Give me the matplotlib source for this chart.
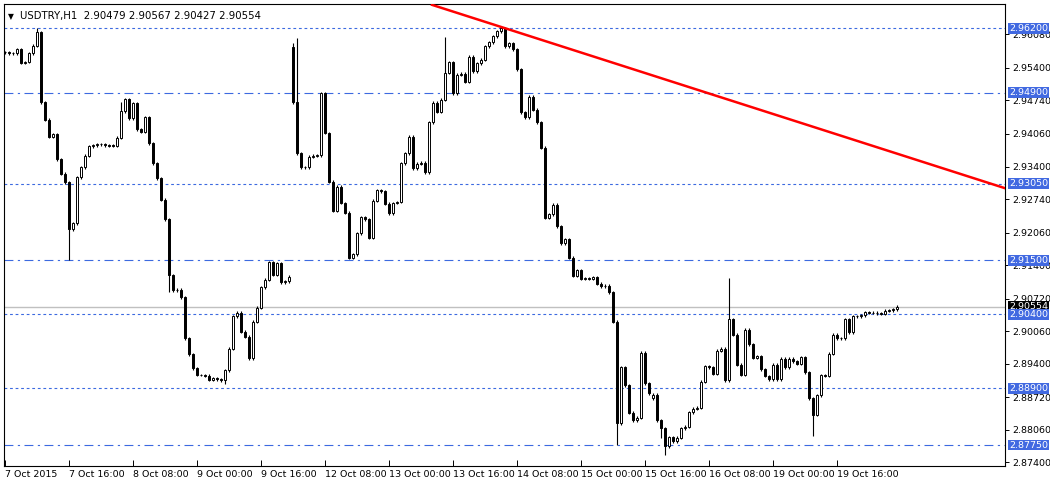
import matplotlib
matplotlib.use("Agg")
import matplotlib.pyplot as plt
import numpy as np

closes = [2.9572,2.9570,2.9570,2.9578,2.9550,2.9552,2.9570,2.9585,2.9612,2.9470,
          2.9435,2.9400,2.9405,2.9355,2.9325,2.9308,2.9213,2.9225,2.9318,2.9338,
          2.9362,2.9381,2.9383,2.9385,2.9385,2.9383,2.9382,2.9382,2.9398,2.9452,
          2.9477,2.9438,2.9468,2.9416,2.9411,2.9440,2.9387,2.9347,2.9316,2.9273,
          2.9233,2.9119,2.9089,2.9090,2.9075,2.8992,2.8959,2.8931,2.8917,2.8917,
          2.8916,2.8907,2.8910,2.8908,2.8906,2.8927,2.8970,2.9036,2.9043,2.9005,
          2.8995,2.8951,2.9025,2.9053,2.9095,2.9110,2.9146,2.9120,2.9144,2.9105,
          2.9107,2.9116,2.9470,2.9367,2.9338,2.9338,2.9360,2.9362,2.9363,2.9489,
          2.9408,2.9309,2.9250,2.9299,2.9266,2.9246,2.9155,2.9162,2.9205,2.9237,
          2.9233,2.9195,2.9271,2.9292,2.9290,2.9264,2.9245,2.9266,2.9268,2.9347,
          2.9367,2.9400,2.9336,2.9346,2.9348,2.9328,2.9430,2.9469,2.9451,2.9475,
          2.9530,2.9552,2.9489,2.9526,2.9528,2.9512,2.9563,2.9533,2.9549,2.9557,
          2.9584,2.9592,2.9604,2.9614,2.9620,2.9584,2.9590,2.9578,2.9537,2.9450,
          2.9440,2.9482,2.9455,2.9430,2.9378,2.9236,2.9243,2.9262,2.9219,2.9184,
          2.9192,2.9155,2.9118,2.9130,2.9112,2.9113,2.9112,2.9115,2.9102,2.9097,
          2.9098,2.9085,2.9025,2.8819,2.8933,2.8896,2.8840,2.8825,2.8830,2.8962,
          2.8900,2.8880,2.8877,2.8825,2.8809,2.8772,2.8791,2.8783,2.8790,2.8809,
          2.8812,2.8841,2.8849,2.8851,2.8903,2.8935,2.8933,2.8920,2.8966,2.8970,
          2.8906,2.9030,2.8999,2.8938,2.8917,2.9009,2.8979,2.8952,2.8955,2.8929,
          2.8915,2.8908,2.8938,2.8908,2.8950,2.8933,2.8950,2.8945,2.8940,2.8953,
          2.8923,2.8870,2.8836,2.8876,2.8917,2.8915,2.8960,2.8999,2.8992,2.8992,
          2.9030,2.9004,2.9036,2.9036,2.9038,2.9044,2.9043,2.9043,2.9042,2.9041,
          2.9047,2.9048,2.9050,2.90554]
first_open = 2.9572
open_overrides = {72: 2.9583, 162: 2.8870}
high_overrides = {8: 2.9620, 72: 2.9590, 73: 2.9600, 110: 2.9603, 125: 2.9620,
                  181: 2.9113, 79: 2.9490, 29: 2.9470, 16: 2.9225, 41: 2.9130}
low_overrides = {16: 2.9150, 165: 2.8755, 153: 2.8775, 202: 2.8793, 55: 2.8898,
                 164: 2.8790, 41: 2.9085}
levels = [2.9620, 2.9490, 2.9305, 2.9150, 2.9040, 2.8890, 2.8775]
level_styles = ['dotted', 'dashdot', 'dotted', 'dashdot', 'dotted', 'dotted', 'dashdot']
bid = 2.90554
trend_pts = ([106.75, 250.0], [2.9668, 2.9296])
yticks = [2.96080, 2.95400, 2.94740, 2.94060, 2.93400, 2.92740, 2.92060,
          2.91400, 2.90720, 2.90060, 2.89400, 2.88720, 2.88060, 2.87400]
xlabels = ["7 Oct 2015", "7 Oct 16:00", "8 Oct 08:00", "9 Oct 00:00", "9 Oct 16:00",
           "12 Oct 08:00", "13 Oct 00:00", "13 Oct 16:00", "14 Oct 08:00",
           "15 Oct 00:00", "15 Oct 16:00", "16 Oct 08:00", "19 Oct 00:00", "19 Oct 16:00"]
title = "USDTRY,H1  2.90479 2.90567 2.90427 2.90554"

n = len(closes)
opens = [first_open] + closes[:-1]
for k, v in open_overrides.items():
    opens[k] = v
highs = [max(o, c) + 0.0003 for o, c in zip(opens, closes)]
lows = [min(o, c) - 0.0003 for o, c in zip(opens, closes)]
for k, v in high_overrides.items():
    highs[k] = max(v, highs[k])
for k, v in low_overrides.items():
    lows[k] = min(v, lows[k])

FS = 6.8
W, H = 1050, 486
fig = plt.figure(figsize=(W/100, H/100), dpi=100)
ax = fig.add_axes([4/W, 1-466/H, (1005-4)/W, (466-4)/H])
ax.set_xlim(-0.25, 250.0)
ax.set_ylim(2.87324, 2.96697)

for lv, st in zip(levels, level_styles):
    ls = (0, (2.5, 2.5)) if st == 'dotted' else (0, (8, 4, 2, 4))
    ax.axhline(lv, color='#3c6ae0', lw=0.8, ls=ls, zorder=1)
ax.axhline(bid, color='#c0c0c0', lw=1.0, zorder=1)

x = np.arange(n)
ax.vlines(x, lows, highs, color='black', lw=0.8, zorder=2)
bodies_b = [max(abs(c - o), 0.00008) for o, c in zip(opens, closes)]
bottoms = [min(o, c) for o, c in zip(opens, closes)]
cols = ['white' if c > o else 'black' for o, c in zip(opens, closes)]
ax.bar(x, bodies_b, bottom=bottoms, width=0.62, color=cols, edgecolor='black',
       lw=0.7, zorder=3)

ax.plot(trend_pts[0], trend_pts[1], color='#ff0000', lw=1.8, zorder=4, clip_on=True)

ax.yaxis.tick_right()
ax.set_yticks(yticks)
ax.set_yticklabels([f"{t:.5f}" for t in yticks], fontsize=FS)
ax.tick_params(axis='y', direction='out', length=3, width=0.7, pad=2)
ax.set_xticks(np.arange(len(xlabels)) * 16)
ax.set_xticklabels(xlabels, fontsize=FS, ha='left')
ax.tick_params(axis='x', direction='in', length=4, width=0.7, pad=3)
for s in ax.spines.values():
    s.set_linewidth(0.8)

for lv in levels:
    ax.text(1.004, lv, f"{lv:.5f}", transform=ax.get_yaxis_transform(), fontsize=FS,
            color='white', va='center', ha='left',
            bbox=dict(boxstyle='square,pad=0.1', fc='#4169e1', ec='none'), zorder=6,
            clip_on=False)
ax.text(1.004, bid, f"{bid:.5f}", transform=ax.get_yaxis_transform(), fontsize=FS,
        color='white', va='center', ha='left',
        bbox=dict(boxstyle='square,pad=0.1', fc='black', ec='none'), zorder=5,
        clip_on=False)

ax.text(0.004, 0.982, "\u25BC", transform=ax.transAxes, fontsize=5.5, va='top', ha='left')
ax.text(0.016, 0.985, title, transform=ax.transAxes, fontsize=7.3, va='top', ha='left')

fig.savefig("out.png", dpi=100)
